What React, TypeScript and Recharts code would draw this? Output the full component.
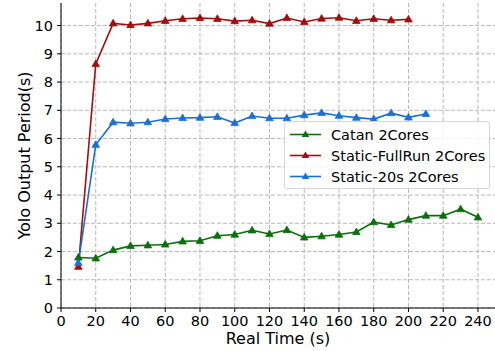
import { LineChart, Line, XAxis, YAxis, CartesianGrid } from 'recharts';

const times = [10, 20, 30, 40, 50, 60, 70, 80, 90, 100, 110, 120, 130, 140, 150, 160, 170, 180, 190, 200, 210, 220, 230, 240];

const catan = [1.79, 1.76, 2.05, 2.2, 2.22, 2.25, 2.36, 2.38, 2.56, 2.6, 2.75, 2.62, 2.76, 2.5, 2.54, 2.6, 2.69, 3.04, 2.94, 3.13, 3.27, 3.27, 3.5, 3.21];
const fullRun = [1.46, 8.64, 10.08, 10.02, 10.08, 10.17, 10.24, 10.27, 10.24, 10.16, 10.19, 10.07, 10.27, 10.13, 10.25, 10.28, 10.17, 10.24, 10.19, 10.22];
const static20 = [1.6, 5.78, 6.58, 6.54, 6.58, 6.69, 6.73, 6.74, 6.77, 6.55, 6.8, 6.72, 6.72, 6.83, 6.91, 6.81, 6.74, 6.69, 6.9, 6.75, 6.87];

const xTicks = [0, 20, 40, 60, 80, 100, 120, 140, 160, 180, 200, 220, 240];
const yTicks = [0, 1, 2, 3, 4, 5, 6, 7, 8, 9, 10];

const series = [
    { key: 'catan', name: 'Catan 2Cores', color: '#0c6e0c' },
    { key: 'fullRun', name: 'Static-FullRun 2Cores', color: '#a30d0d' },
    { key: 'static20', name: 'Static-20s 2Cores', color: '#1b70d4' },
];

const data = times.map((t, i) => ({
    time: t,
    catan: catan[i],
    fullRun: fullRun[i],
    static20: static20[i],
}));

const FONT = 'DejaVu Sans, sans-serif';

function triangle(color: string) {
    return (props: any) => {
        const { cx, cy, index } = props;
        if (cx == null || cy == null || props.value == null) return <g key={index} />;
        return (
            <polygon
                key={index}
                points={`${cx},${cy - 4} ${cx - 3.8},${cy + 2.6} ${cx + 3.8},${cy + 2.6}`}
                fill={color}
                stroke={color}
                strokeWidth={0.8}
            />
        );
    };
}

function LegendBox() {
    return (
        <div
            style={{
                position: 'absolute',
                left: 284,
                top: 121,
                width: 206,
                height: 68,
                border: '1px solid #d6d6d6',
                borderRadius: 3,
                background: 'rgba(255,255,255,0.85)',
                fontFamily: FONT,
                fontSize: 14.5,
                color: '#000',
                boxSizing: 'border-box',
                paddingTop: 2,
            }}
        >
            {series.map((s) => (
                <div key={s.key} style={{ height: 21, display: 'flex', alignItems: 'center' }}>
                    <svg width={46} height={21} style={{ display: 'block' }}>
                        <line x1={5} x2={36} y1={10.5} y2={10.5} stroke={s.color} strokeWidth={1.6} />
                        <polygon points="20.5,6.5 16.7,13.1 24.3,13.1" fill={s.color} />
                    </svg>
                    <span style={{ whiteSpace: 'nowrap' }}>{s.name}</span>
                </div>
            ))}
        </div>
    );
}

export default function App() {
    document.body.style.margin = '0';
    return (
        <div style={{ position: 'relative', width: 495, height: 351, background: '#fff' }}>
            <LineChart width={495} height={351} data={data} margin={{ top: 3, right: 0, bottom: 0, left: 0 }}>
                <CartesianGrid stroke="#b0b0b0" strokeDasharray="4 2" strokeWidth={0.9} horizontalValues={yTicks} verticalValues={xTicks} />
                <XAxis
                    dataKey="time"
                    type="number"
                    domain={[0, 249.8]}
                    ticks={xTicks}
                    allowDataOverflow
                    height={43}
                    stroke="#000"
                    tickSize={4}
                    tickMargin={4}
                    tick={{ fill: '#000', fontSize: 14.5, fontFamily: FONT }}
                    label={{ value: 'Real Time (s)', position: 'insideBottom', offset: 7, fill: '#000', fontSize: 16, fontFamily: FONT }}
                />
                <XAxis xAxisId="top" orientation="top" dataKey="time" type="number" domain={[0, 249.8]} height={0} tick={false} tickLine={false} stroke="#000" />
                <YAxis
                    type="number"
                    domain={[0, 10.8]}
                    ticks={yTicks}
                    allowDataOverflow
                    width={61}
                    stroke="#000"
                    tickSize={4}
                    tickMargin={4}
                    tick={{ fill: '#000', fontSize: 14.5, fontFamily: FONT }}
                    label={{ value: 'Yolo Output Period(s)', angle: -90, position: 'insideLeft', offset: 24, style: { textAnchor: 'middle' }, fill: '#000', fontSize: 16, fontFamily: FONT }}
                />
                {series.map((s) => (
                    <Line
                        key={s.key}
                        dataKey={s.key}
                        name={s.name}
                        stroke={s.color}
                        strokeWidth={1.6}
                        dot={triangle(s.color)}
                        activeDot={false}
                        isAnimationActive={false}
                    />
                ))}
            </LineChart>
            <LegendBox />
        </div>
    );
}
